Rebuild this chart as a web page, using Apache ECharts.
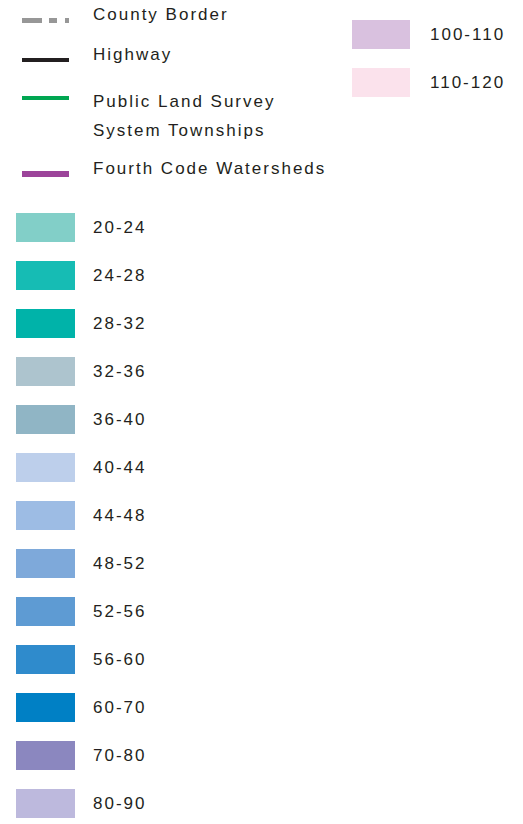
<!DOCTYPE html>
<html>
<head>
<meta charset="utf-8">
<script src="https://cdn.jsdelivr.net/npm/echarts@6/dist/echarts.min.js"></script>
<style>
  html, body { margin: 0; padding: 0; background: #fff; }
  #chart { width: 523px; height: 824px; }
  /* legend type is letter-spaced in the source map */
  #chart text { letter-spacing: 2px; }
</style>
</head>
<body>
<div id="chart"></div>
<script>
// map features drawn as lines
const lineNames = ['County Border', 'Highway', 'Public Land Survey\nSystem Townships', 'Fourth Code Watersheds']
const lineColors = ['#979797', '#231f20', '#00a651', '#9c449a']

// value classes, first column then second column
const binsLeft = ['20-24', '24-28', '28-32', '32-36', '36-40', '40-44', '44-48', '48-52', '52-56', '56-60', '60-70', '70-80', '80-90']
const colorsLeft = ['#82cfc8', '#16bcb4', '#00b3a9', '#adc4ce', '#90b5c5', '#bdcfeb', '#9dbce4', '#7ea9da', '#5e9bd3', '#2f8bcc', '#0080c5', '#8b87bf', '#bdb9dd']
const binsRight = ['100-110', '110-120']
const colorsRight = ['#d9c1df', '#fbe2ec']

const chart = echarts.init(document.getElementById('chart'), null, { renderer: 'svg' })

const baseText = { color: '#231f20', fontSize: 17, fontFamily: 'Liberation Sans' }

// line icons: the leading/trailing moveTo stretches the icon box so the label
// sits a little above the line (or beside the first of two lines)
const lineIcons = [
  'path://M0 0M0 12H20V17H0Z M27 12H35V17H27Z M43 12H47V17H43Z',
  'path://M0 0M0 12H47V16H0Z',
  'path://M0 0H47V4H0Z M0 39',
  'path://M0 0M0 11H47V17H0Z',
]
const lineIconHeight = [17, 16, 39, 17]
const lineTop = [6, 45.5, 86.5, 160]

const lineLegends = lineNames.map((name, i) => {
  const twoLine = name.indexOf('\n') >= 0
  return {
    left: 22,
    top: lineTop[i],
    orient: 'vertical',
    padding: 0,
    selectedMode: false,
    itemWidth: 47,
    itemHeight: lineIconHeight[i],
    icon: lineIcons[i],
    data: [name],
    textStyle: {
      ...baseText,
      lineHeight: twoLine ? 29 : 16,
      padding: [0, 0, 0, 19],
    },
  }
})

const swatchLegend = (names, left, top, width, gapText) => ({
  left,
  top,
  orient: 'vertical',
  padding: 0,
  selectedMode: false,
  itemWidth: width,
  itemHeight: 29,
  itemGap: 19,
  icon: 'rect',
  data: names,
  textStyle: { ...baseText, lineHeight: 20, padding: [0, 0, 0, gapText] },
})

const series = [
  ...lineNames.map((name, i) => ({
    type: 'line',
    name,
    data: [],
    color: lineColors[i],
    lineStyle: { color: lineColors[i] },
    itemStyle: { color: lineColors[i] },
  })),
  ...binsLeft.map((name, i) => ({ type: 'bar', name, data: [], itemStyle: { color: colorsLeft[i] } })),
  ...binsRight.map((name, i) => ({ type: 'bar', name, data: [], itemStyle: { color: colorsRight[i] } })),
]

chart.setOption({
  backgroundColor: '#ffffff',
  animation: false,
  grid: { show: false, left: 0, right: 0, top: 0, bottom: 0 },
  xAxis: { type: 'category', show: false },
  yAxis: { type: 'value', show: false },
  legend: [
    ...lineLegends,
    swatchLegend(binsLeft, 16, 213, 59, 13),
    swatchLegend(binsRight, 352, 20, 58, 15),
  ],
  series,
})
</script>
</body>
</html>
